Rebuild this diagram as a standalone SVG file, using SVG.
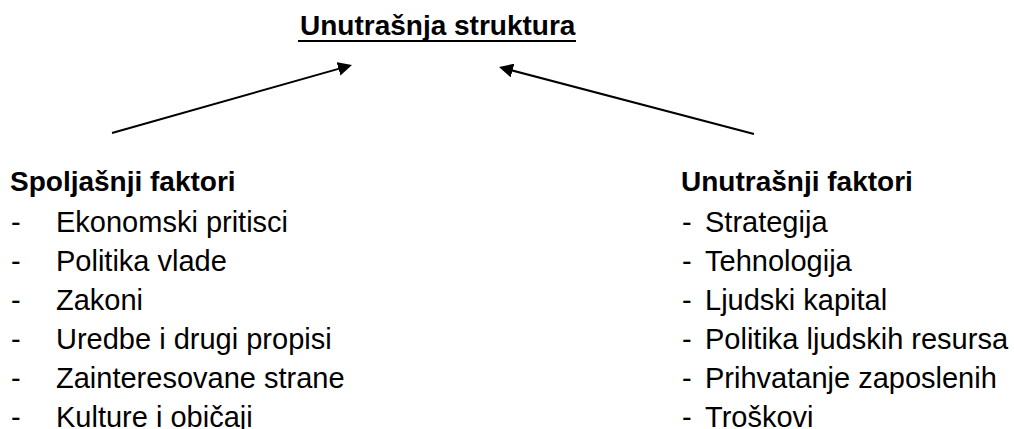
<svg xmlns="http://www.w3.org/2000/svg" width="1014" height="429" viewBox="0 0 1014 429">
  <style>
    .t { font-family: "Liberation Sans", Arial, sans-serif; fill: #000; }
    .b { font-size: 28px; font-weight: bold; }
    .r { font-size: 29px; }
    .conn { stroke: #000; stroke-width: 2; fill: none; }
  </style>
  <defs>
    <marker id="arrow" markerUnits="userSpaceOnUse" markerWidth="14" markerHeight="14" refX="10" refY="7" orient="auto">
      <path d="M0,0 L14,7 L0,14 z" fill="#000"/>
    </marker>
  </defs>
  <rect width="1014" height="429" fill="#fff"/>

  <g id="node-unutrasnja-struktura">
    <text class="t b" x="300" y="35">Unutrašnja struktura</text>
    <line x1="298" y1="41" x2="576" y2="41" stroke="#000" stroke-width="2"/>
  </g>

  <g id="node-spoljasnji-faktori">
    <text class="t b" x="10" y="191">Spoljašnji faktori</text>
    <g class="t r">
      <text x="11" y="232">-</text><text x="56" y="232">Ekonomski pritisci</text>
      <text x="11" y="271">-</text><text x="56" y="271">Politika vlade</text>
      <text x="11" y="310">-</text><text x="56" y="310">Zakoni</text>
      <text x="11" y="349">-</text><text x="56" y="349">Uredbe i drugi propisi</text>
      <text x="11" y="388">-</text><text x="56" y="388">Zainteresovane strane</text>
      <text x="11" y="427">-</text><text x="56" y="427">Kulture i običaji</text>
    </g>
  </g>

  <g id="node-unutrasnji-faktori">
    <text class="t b" x="681" y="191">Unutrašnji faktori</text>
    <g class="t r">
      <text x="682" y="232">-</text><text x="705" y="232">Strategija</text>
      <text x="682" y="271">-</text><text x="705" y="271">Tehnologija</text>
      <text x="682" y="310">-</text><text x="705" y="310">Ljudski kapital</text>
      <text x="682" y="349">-</text><text x="705" y="349">Politika ljudskih resursa</text>
      <text x="682" y="388">-</text><text x="705" y="388">Prihvatanje zaposlenih</text>
      <text x="682" y="427">-</text><text x="705" y="427">Troškovi</text>
    </g>
  </g>

  <g id="connectors">
    <line class="conn" x1="112" y1="133" x2="348.15" y2="66.09" marker-end="url(#arrow)"/>
    <line class="conn" x1="754" y1="134" x2="502.87" y2="68.02" marker-end="url(#arrow)"/>
  </g>
</svg>
